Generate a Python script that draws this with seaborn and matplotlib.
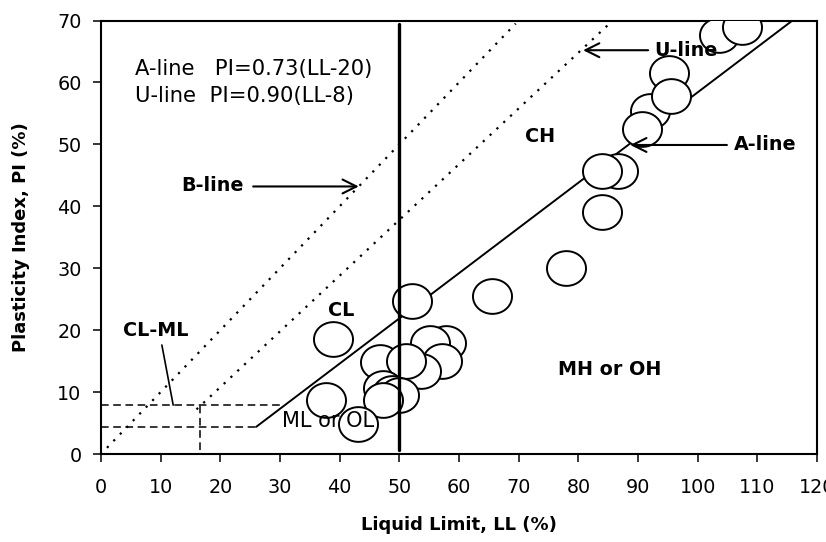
import numpy as np
import matplotlib
matplotlib.use("Agg")
import matplotlib.pyplot as plt
from matplotlib.path import Path
import seaborn as sns
import pandas as pd

# ---- data ----
ll_values = [103.6, 107.5, 95.2, 92.0, 95.6, 90.6, 86.7, 84.0, 84.0, 77.9, 65.5, 52.1,
             38.9, 57.9, 55.1, 57.2, 46.8, 53.7, 51.2, 47.3, 48.7, 50.0, 47.3, 37.7, 43.1]
pi_values = [67.6, 69.0, 61.6, 55.4, 57.8, 52.5, 45.7, 45.7, 39.0, 30.0, 25.5, 24.7,
             18.5, 18.0, 18.0, 15.0, 14.8, 13.4, 15.0, 10.7, 9.9, 9.6, 8.8, 8.8, 4.8]

a_line_ll = [26.0, 115.9]          # PI = 0.73(LL-20)
u_line_ll = [16.0, 85.5]           # PI = 0.90(LL-8)
b_line_ll = [1.0, 69.5]            # PI = LL
vline_ll = 50
vline_pi = [0.7, 69.5]
clml_upper_pi = 7.9
clml_lower_pi = 4.4
clml_upper_ll = [0, 30.5]
clml_lower_ll = [0, 26.0]
clml_vert_ll = 16.6
clml_vert_pi = [0.6, 7.9]

x_ticks = list(range(0, 121, 10))
y_ticks = list(range(0, 71, 10))

sns.set_theme(style="white")
plt.rcParams['font.family'] = ['DejaVu Sans']
plt.rcParams['text.color'] = 'black'
plt.rcParams['axes.labelcolor'] = 'black'

fig = plt.figure(figsize=(8.26, 5.42), dpi=100)
ax = fig.add_axes([101/826, 1-454/542, (817-101)/826, (454-20.5)/542])

def a_line(x):
    return 0.73 * (np.asarray(x) - 20)

def u_line(x):
    return 0.90 * (np.asarray(x) - 8)

# A-line (solid)
sns.lineplot(x=a_line_ll, y=a_line(a_line_ll), ax=ax, color='black', lw=1.4, zorder=2)
# U-line and B-line (dotted)
ax.plot(u_line_ll, u_line(u_line_ll), color='black', lw=1.6, ls=(0, (1, 3.2)), zorder=2)
ax.plot(b_line_ll, b_line_ll, color='black', lw=1.6, ls=(0, (1, 3.2)), zorder=2)

# CL-ML dashed box
ax.plot(clml_upper_ll, [clml_upper_pi]*2, color='black', lw=1.1, ls=(0, (5, 3)), zorder=2)
ax.plot(clml_lower_ll, [clml_lower_pi]*2, color='black', lw=1.1, ls=(0, (5, 3)), zorder=2)
ax.plot([clml_vert_ll]*2, clml_vert_pi, color='black', lw=1.1, ls=(0, (5, 3)), zorder=2)

# data points as open ellipses
theta = np.linspace(0, 2*np.pi, 80)
verts = np.column_stack([np.cos(theta), 0.89*np.sin(theta)])
ellipse = Path(verts, closed=True)
df = pd.DataFrame({'LL': ll_values, 'PI': pi_values})
for i in range(len(df)):
    sns.scatterplot(x=[df.LL[i]], y=[df.PI[i]], ax=ax, marker=ellipse, s=790,
                    color='white', edgecolor='black', linewidth=1.4, zorder=3 + i*0.01)

# vertical thick line LL = 50
ax.plot([vline_ll]*2, vline_pi, color='black', lw=2.4, zorder=5)

# labels
bold = dict(fontsize=13.8, fontweight='bold', color='black', zorder=6)
ax.text(73.6, 51.2, 'CH', ha='center', va='center', **bold)
ax.text(106.1, 49.9, 'A-line', ha='left', va='center', **bold)
ax.text(92.8, 65.2, 'U-line', ha='left', va='center', **bold)
ax.text(13.5, 43.3, 'B-line', ha='left', va='center', **bold)
ax.text(40.2, 23.2, 'CL', ha='center', va='center', **bold)
ax.text(9.2, 20.0, 'CL-ML', ha='center', va='center', **bold)
ax.text(85.3, 13.6, 'MH or OH', ha='center', va='center', **bold)
ax.text(38.1, 5.4, 'ML or OL', ha='center', va='center', fontsize=15, color='black', zorder=6)
ax.text(5.7, 62.2, 'A-line   PI=0.73(LL-20)', ha='left', va='center', fontsize=15.2, color='black')
ax.text(5.7, 57.8, 'U-line  PI=0.90(LL-8)', ha='left', va='center', fontsize=15.2, color='black')

arrow = dict(arrowstyle='->,head_length=0.5,head_width=0.25', lw=1.5, color='black',
             mutation_scale=20, shrinkA=0, shrinkB=0)
ax.annotate('', xy=(88.7, 49.9), xytext=(104.9, 49.9), arrowprops=arrow, zorder=6)
ax.annotate('', xy=(80.8, 65.2), xytext=(91.7, 65.2), arrowprops=arrow, zorder=6)
ax.annotate('', xy=(43.2, 43.2), xytext=(25.5, 43.2), arrowprops=arrow, zorder=6)
# pointer line from CL-ML label
ax.plot([10.2, 12.1], [17.6, 7.9], color='black', lw=1.2, zorder=2)

ax.set_xlim(0, 120)
ax.set_ylim(0, 70)
ax.set_xticks(x_ticks)
ax.set_xticklabels([str(t) for t in x_ticks])
ax.set_yticks(y_ticks)
ax.set_yticklabels([str(t) for t in y_ticks])
ax.tick_params(axis='both', which='both', direction='out', length=6, width=1.1,
               colors='black', labelsize=13.8, bottom=True, left=True)
ax.tick_params(axis='x', pad=11)
ax.tick_params(axis='y', pad=8)
for sp in ax.spines.values():
    sp.set_visible(True)
    sp.set_color('black')
    sp.set_linewidth(1.5)
ax.set_xlabel('Liquid Limit, LL (%)', fontsize=13, fontweight='bold', color='black', labelpad=14)
ax.set_ylabel('Plasticity Index, PI (%)', fontsize=13, fontweight='bold', color='black')
ax.yaxis.set_label_coords(-0.099, 0.5)
ax.grid(False)
ax.set_facecolor('white')
fig.patch.set_facecolor('white')

fig.savefig('out.png', dpi=100, facecolor='white')
